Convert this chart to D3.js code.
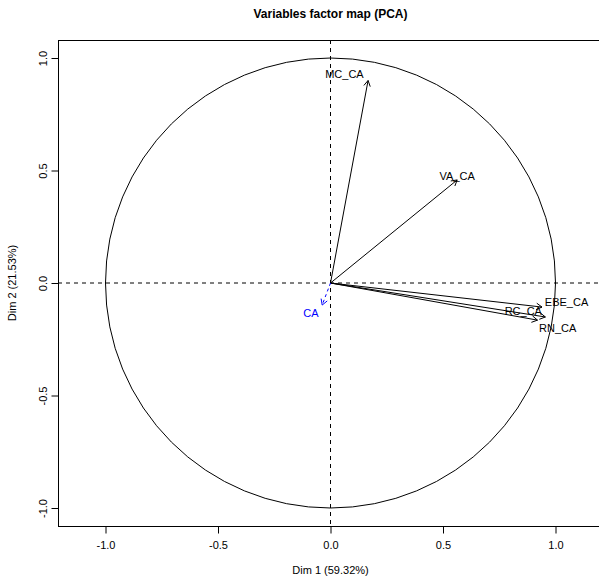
<!DOCTYPE html>
<html>
<head>
<meta charset="utf-8">
<script src="https://cdn.jsdelivr.net/npm/d3@7"></script>
<style>
  body { margin: 0; background: #fff; }
  svg { font-family: "Liberation Sans", Arial, sans-serif; }
</style>
</head>
<body>
<div id="chart"></div>
<script>
// active variables (coordinates on Dim 1 / Dim 2)
const varNames = ["MC_CA", "VA_CA", "EBE_CA", "RC_CA", "RN_CA"];
const dim1 = [0.167, 0.563, 0.940, 0.920, 0.955];
const dim2 = [0.900, 0.458, -0.107, -0.165, -0.151];
// label anchor points, as placed on the picture
const labelX = [0.062, 0.563, 1.049, 0.857, 1.010];
const labelY = [0.929, 0.476, -0.084, -0.124, -0.200];

// supplementary variable
const supNames = ["CA"];
const supDim1 = [-0.037];
const supDim2 = [-0.098];
const supLabelX = [-0.087];
const supLabelY = [-0.133];

const xTicks = [-1.0, -0.5, 0.0, 0.5, 1.0];
const yTicks = [-1.0, -0.5, 0.0, 0.5, 1.0];

const W = 599, H = 581;
const margin = { top: 40, left: 58, bottom: 55 };
const plotH = H - margin.top - margin.bottom;   // 486
const unit = plotH / 2.16;                       // px per unit (asp = 1)
const x0 = 330.5;

const xScale = d3.scaleLinear().domain([0, 1]).range([x0, x0 + unit]);
const yScale = d3.scaleLinear().domain([-1.08, 1.08]).range([margin.top + plotH, margin.top]);
const fmt = d => d.toFixed(1);   // R style, plain hyphen

const svg = d3.select("#chart").append("svg")
    .attr("width", W).attr("height", H);

svg.append("clipPath").attr("id", "plotclip")
  .append("rect")
    .attr("x", margin.left).attr("y", margin.top)
    .attr("width", W - margin.left).attr("height", plotH);

let plot = svg.append("g").attr("clip-path", "url(#plotclip)");

// reference lines
plot.append("line")
    .attr("x1", margin.left).attr("x2", W)
    .attr("y1", yScale(0)).attr("y2", yScale(0))
    .attr("stroke", "#000").attr("stroke-dasharray", "4,4");
plot.append("line")
    .attr("x1", xScale(0)).attr("x2", xScale(0))
    .attr("y1", margin.top).attr("y2", margin.top + plotH)
    .attr("stroke", "#000").attr("stroke-dasharray", "4,4");

// correlation circle
plot.append("circle")
    .attr("cx", xScale(0)).attr("cy", yScale(0))
    .attr("r", xScale(1) - xScale(0))
    .attr("fill", "none").attr("stroke", "#000").attr("stroke-width", 1);

function drawArrow(g, x, y, color, dashed) {
    let sx = xScale(0), sy = yScale(0);
    let ex = xScale(x), ey = yScale(y);
    let ang = Math.atan2(ey - sy, ex - sx);
    let len = 6.5, spread = Math.PI / 6;
    let line = g.append("line")
        .attr("x1", sx).attr("y1", sy).attr("x2", ex).attr("y2", ey)
        .attr("stroke", color).attr("stroke-width", 1);
    if (dashed) line.attr("stroke-dasharray", "3,3");
    let head = "M" + (ex - len * Math.cos(ang - spread)) + "," + (ey - len * Math.sin(ang - spread)) +
        "L" + ex + "," + ey +
        "L" + (ex - len * Math.cos(ang + spread)) + "," + (ey - len * Math.sin(ang + spread));
    g.append("path").attr("d", head).attr("fill", "none").attr("stroke", color).attr("stroke-width", 1);
}

let arrows = plot.append("g");
varNames.forEach((n, i) => drawArrow(arrows, dim1[i], dim2[i], "#000", false));
supNames.forEach((n, i) => drawArrow(arrows, supDim1[i], supDim2[i], "#0000FF", true));

plot.append("g").selectAll("text").data(varNames).join("text")
    .attr("x", (d, i) => xScale(labelX[i]))
    .attr("y", (d, i) => yScale(labelY[i]))
    .attr("text-anchor", "middle")
    .attr("dominant-baseline", "central")
    .attr("font-size", 11)
    .attr("fill", "#000")
    .text(d => d);

plot.append("g").selectAll("text").data(supNames).join("text")
    .attr("x", (d, i) => xScale(supLabelX[i]))
    .attr("y", (d, i) => yScale(supLabelY[i]))
    .attr("text-anchor", "middle")
    .attr("dominant-baseline", "central")
    .attr("font-size", 11)
    .attr("fill", "#0000FF")
    .text(d => d);

// box (right side lies beyond the picture)
svg.append("rect")
    .attr("x", margin.left + 0.5).attr("y", margin.top + 0.5)
    .attr("width", 600).attr("height", plotH)
    .attr("fill", "none").attr("stroke", "#000").attr("stroke-width", 1);

// axes
let xAxis = svg.append("g")
    .attr("transform", "translate(0," + (margin.top + plotH + 0.5) + ")")
    .call(d3.axisBottom(xScale).tickValues(xTicks).tickFormat(fmt).tickSize(7).tickPadding(8));
xAxis.select(".domain").remove();
xAxis.selectAll("text").attr("font-size", 11).attr("font-family", "Liberation Sans, Arial, sans-serif").attr("fill", "#000");

let yAxis = svg.append("g")
    .attr("transform", "translate(" + (margin.left + 0.5) + ",0)")
    .call(d3.axisLeft(yScale).tickValues(yTicks).tickFormat(fmt).tickSize(7));
yAxis.select(".domain").remove();
yAxis.selectAll("text")
    .attr("font-size", 11).attr("font-family", "Liberation Sans, Arial, sans-serif").attr("fill", "#000")
    .attr("x", null).attr("dy", null)
    .attr("text-anchor", "middle")
    .attr("transform", "translate(-16,0) rotate(-90)")
    .attr("dominant-baseline", "central");

// titles
svg.append("text")
    .attr("x", x0).attr("y", 18)
    .attr("text-anchor", "middle")
    .attr("font-size", 12).attr("font-weight", "bold")
    .text("Variables factor map (PCA)");

svg.append("text")
    .attr("x", x0).attr("y", 574)
    .attr("text-anchor", "middle")
    .attr("font-size", 11)
    .text("Dim 1 (59.32%)");

svg.append("text")
    .attr("transform", "translate(16," + yScale(0) + ") rotate(-90)")
    .attr("text-anchor", "middle")
    .attr("font-size", 11)
    .text("Dim 2 (21.53%)");
</script>
</body>
</html>
